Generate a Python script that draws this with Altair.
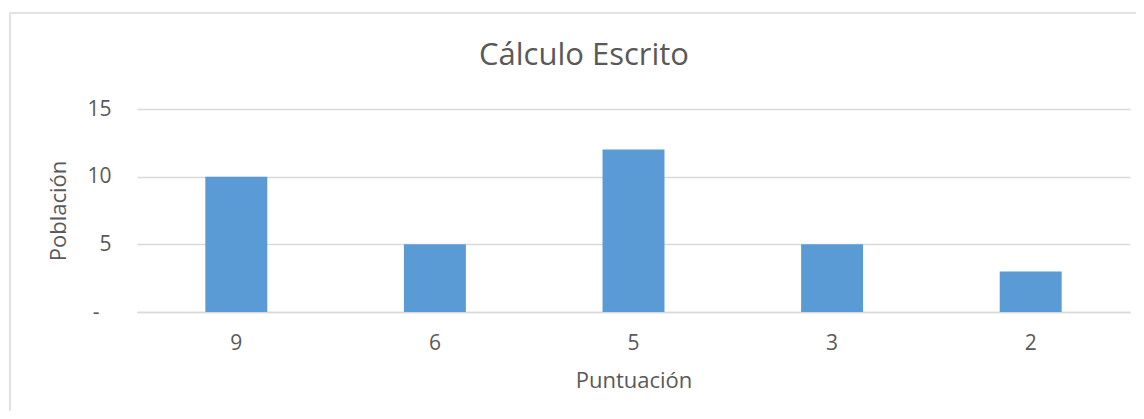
import altair as alt
import pandas as pd

categories = ["9", "6", "5", "3", "2"]
values = [10, 5, 12, 5, 3]
y_ticks = [0, 5, 10, 15]
title_text = "Cálculo Escrito"
x_title = "Puntuación"
y_title = "Población"

df = pd.DataFrame({"Puntuacion": categories, "Poblacion": values})

FONT = "Open Sans"
TXT = "#595959"
GRID = "#d9d9d9"

bars = alt.Chart(df).mark_bar(color="#5b9bd5").encode(
    x=alt.X(
        "Puntuacion:N",
        sort=categories,
        scale=alt.Scale(paddingInner=0.688, paddingOuter=0.344),
        axis=alt.Axis(
            title=x_title,
            labelAngle=0,
            labelFontSize=21,
            labelColor=TXT,
            labelFont=FONT,
            labelPadding=20,
            ticks=False,
            domain=True,
            domainColor=GRID,
            domainWidth=1.5,
            titleFontSize=22,
            titleFont=FONT,
            titleColor=TXT,
            titleFontWeight="normal",
            titlePadding=17,
        ),
    ),
    y=alt.Y(
        "Poblacion:Q",
        scale=alt.Scale(domain=[0, 15], nice=False),
        axis=alt.Axis(
            title=y_title,
            values=y_ticks,
            labelExpr="datum.value == 0 ? '-' : datum.label",
            labelFontSize=21,
            labelColor=TXT,
            labelFont=FONT,
            labelPadding={"condition": {"test": "datum.value == 0", "value": 38}, "value": 26},
            ticks=False,
            domain=False,
            grid=True,
            gridColor=GRID,
            gridWidth=1.3,
            titleFontSize=22,
            titleFont=FONT,
            titleColor=TXT,
            titleFontWeight="normal",
            titlePadding=16,
        ),
    ),
)

one = pd.DataFrame({"t": [title_text]})

title = alt.Chart(one).mark_text(
    font=FONT, fontSize=31, color=TXT, baseline="alphabetic", align="center"
).encode(text="t:N", x=alt.value(447), y=alt.value(-44))

border = alt.Chart(one).mark_rect(
    fill=None, stroke=GRID, strokeWidth=1.5
).encode(x=alt.value(-127), x2=alt.value(1300), y=alt.value(-96), y2=alt.value(500))

chart = alt.layer(border, bars, title).properties(
    width=993,
    height=203,
    autosize=alt.AutoSizeParams(type="none"),
    padding={"left": 129, "top": 101, "right": 6, "bottom": 99},
).configure_view(stroke=None)

chart.save("out.html", embed_options={"renderer": "svg", "actions": False})
